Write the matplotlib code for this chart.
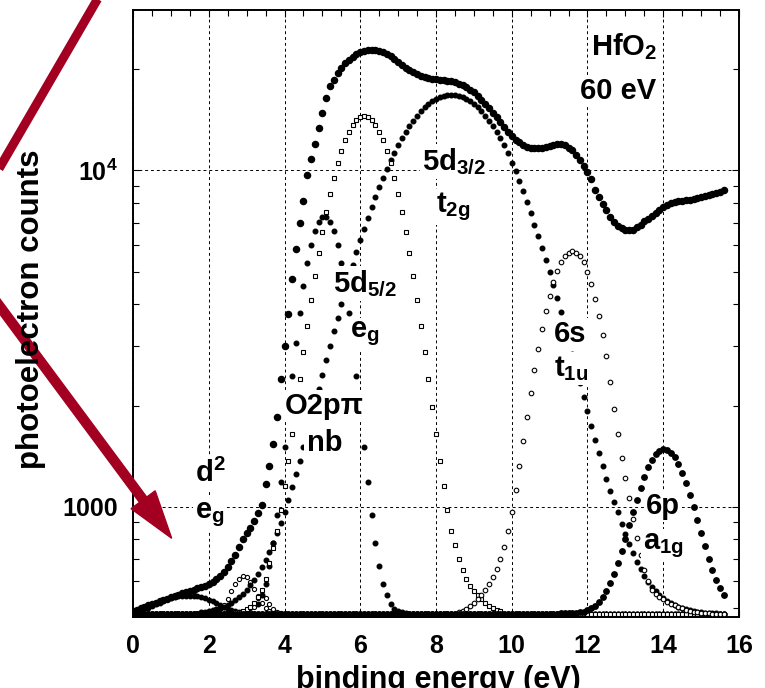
import numpy as np
import matplotlib
matplotlib.use("Agg")
import matplotlib.pyplot as plt
from matplotlib.lines import Line2D
from matplotlib.patches import FancyArrow
from matplotlib.transforms import IdentityTransform
from matplotlib.ticker import NullFormatter

plt.rcParams['font.family'] = ['Liberation Sans', 'DejaVu Sans']
plt.rcParams['font.weight'] = 'bold'
plt.rcParams['mathtext.fontset'] = 'custom'
plt.rcParams['mathtext.bf'] = 'Liberation Sans:bold'
plt.rcParams['mathtext.rm'] = 'Liberation Sans:bold'
plt.rcParams['mathtext.default'] = 'bf'

# binding energy grid, 0.1 eV steps from 0 to 15.6 eV
energy = np.round(np.arange(157) * 0.1, 1)
floor_counts = 481

# total spectrum (0.0 ... 15.6 eV)
total = [490, 494, 499, 504, 509, 513, 518, 523, 528, 533,
         538, 543, 548, 553, 558, 563, 567, 572, 577, 583,
         590, 598, 608, 622, 640, 662, 690, 720, 760, 800,
         835, 865, 905, 960, 1010, 1170, 1325, 1540, 1850, 2390,
         3000, 3730, 4760, 5830, 7000, 8100, 9700, 10840, 12020, 13340,
         14790, 16410, 17780, 18620, 19500, 20180, 20800, 21280, 21780, 22130,
         22440, 22650, 22750, 22800, 22750, 22650, 22490, 22230, 21880, 21480,
         20990, 20610, 20230, 19860, 19630, 19360, 19100, 18920, 18840, 18750,
         18710, 18620, 18580, 18500, 18410, 18280, 18110, 17950, 17700, 17380,
         17060, 16670, 16220, 15780, 15350, 14860, 14390, 13900, 13430, 13000,
         12650, 12360, 12110, 11910, 11780, 11700, 11640, 11640, 11670, 11750,
         11860, 11940, 11990, 11970, 11890, 11700, 11480, 11140, 10720, 10280,
         9890, 9400, 8770, 8320, 7940, 7620, 7280, 7030, 6850, 6750,
         6670, 6640, 6670, 6780, 6900, 7050, 7180, 7310, 7460, 7620,
         7760, 7890, 7980, 8050, 8090, 8130, 8170, 8180, 8220, 8280,
         8340, 8390, 8450, 8510, 8590, 8650, 8730]

# components: (first energy, values)
d2_start = 0.0
d2_eg = [483, 486, 490, 495, 501, 507, 513, 519, 525, 530,
         534, 538, 541, 543, 544, 544, 543, 541, 538, 534,
         529, 523, 517, 510, 504, 498, 493, 489, 486, 484,
         482, 481]

bump1_start = 2.2
bump1 = [488, 496, 511, 532, 560, 588, 611, 622, 617, 598,
         571, 543, 519, 501, 490, 485]

bump2_start = 3.0
bump2 = [482, 487, 505, 535, 548, 535, 514, 496, 486, 482]

o2p_start = 3.3
o2p_nb = [515, 545, 590, 665, 780, 945, 1185, 1510, 1930, 2450,
          3070, 3780, 4530, 5290, 6000, 6590, 7030, 7270, 7270, 7030,
          6590, 6000, 5290, 4530, 3780, 3070, 2450, 1930, 1510, 1185,
          945, 780, 665, 590, 545, 515, 498, 490, 485, 482]

d52_start = 2.5
d52_eg = [482, 483, 485, 487, 490, 495, 505, 518, 538, 565,
          610, 680, 755, 845, 979, 1151, 1370, 1644, 1983, 2393,
          2882, 3455, 4114, 4857, 5681, 6575, 7524, 8511, 9510, 10494,
          11433, 12297, 13053, 13675, 14138, 14424, 14520, 14424, 14138, 13675,
          13053, 12297, 11433, 10494, 9510, 8511, 7524, 6575, 5681, 4857,
          4114, 3455, 2882, 2393, 1983, 1644, 1370, 1151, 979, 845,
          770, 700, 650, 610, 580, 560, 545, 530, 518, 508,
          500, 494, 490]

d32_start = 1.8
d32_t2g = [486, 487, 489, 492, 496, 500, 505, 511, 518, 527,
           538, 551, 566, 584, 605, 630, 660, 695, 735, 782,
           835, 895, 965, 1048, 1142, 1248, 1369, 1506, 1660, 1833,
           2025, 2237, 2472, 2731, 3013, 3320, 3653, 4013, 4398, 4810,
           5248, 5712, 6199, 6710, 7241, 7791, 8356, 8935, 9524, 10118,
           10714, 11307, 11894, 12468, 13025, 13561, 14070, 14548, 14990, 15391,
           15747, 16056, 16313, 16515, 16662, 16750, 16780, 16750, 16662, 16515,
           16313, 16056, 15747, 15391, 14990, 14548, 14070, 13561, 13025, 12468,
           11894, 11307, 10500, 9950, 9330, 8700, 8050, 7450, 6900, 6400,
           5900, 5420, 4980, 4560, 4170, 3800, 3460, 3140, 2850, 2590,
           2340, 2120, 1920, 1740, 1580, 1440, 1320, 1210, 1115, 1030,
           962, 890, 828, 774, 727, 687, 653, 624, 599, 579,
           561, 547, 534, 524, 516, 509, 503, 499, 495, 492,
           489, 487, 485, 484, 483, 482, 482, 481, 481]

s6_start = 8.6
s6_t1u = [485, 490, 497, 506, 518, 532, 548, 566, 590, 620,
          655, 700, 760, 845, 962, 1123, 1324, 1566, 1852, 2181,
          2550, 2952, 3377, 3814, 4244, 4652, 5018, 5325, 5557, 5701,
          5750, 5701, 5557, 5325, 5000, 4600, 4150, 3700, 3250, 2800,
          2350, 1950, 1650, 1400, 1220, 1060, 920, 810, 720, 650,
          600, 565, 550, 538, 530, 522, 515, 509, 504, 499,
          494, 490, 487, 485, 483, 482, 482, 481, 481, 481,
          480]

p6_start = 11.0
p6_a1g = [481, 481, 481, 482, 482, 482, 482, 483, 485, 488,
          492, 499, 508, 520, 538, 561, 592, 632, 680, 737,
          804, 880, 963, 1050, 1140, 1228, 1310, 1380, 1432, 1468,
          1483, 1476, 1449, 1401, 1338, 1261, 1176, 1087, 997, 912,
          833, 762, 701, 649, 606, 573, 547]

x_ticks = [0, 2, 4, 6, 8, 10, 12, 14, 16]
y_ticks = [1000, 10000]
y_tick_labels = ['1000', '$10^4$']
y_minor = [500, 600, 700, 800, 900, 2000, 3000, 4000, 5000, 6000, 7000,
           8000, 9000, 20000]


def on_floor(start, values):
    y = np.full(energy.size, float(floor_counts))
    i = int(round(start * 10))
    y[i:i + len(values)] = values
    return y


fig = plt.figure(figsize=(7.65, 6.88), dpi=100)
ax = fig.add_axes([133 / 765, 1 - 617 / 688, 606 / 765, 607 / 688])
ax.set_yscale('log')

ax.plot(energy, on_floor(d2_start, d2_eg), 'o', ms=3.2, color='black', zorder=3)
ax.plot(energy, on_floor(bump1_start, bump1), 'o', ms=3.0, mfc='white',
        mec='black', mew=0.8, zorder=3)
ax.plot(energy, on_floor(bump2_start, bump2), 'o', ms=3.0, mfc='white',
        mec='black', mew=0.8, zorder=3)
ax.plot(energy, on_floor(d32_start, d32_t2g), 'o', ms=3.3, color='black', zorder=3)
ax.plot(energy, on_floor(o2p_start, o2p_nb), 'o', ms=3.3, color='black', zorder=3)
ax.plot(energy, on_floor(d52_start, d52_eg), 's', ms=3.0, mfc='white',
        mec='black', mew=0.8, zorder=3)
ax.plot(energy, on_floor(s6_start, s6_t1u), 'o', ms=3.3, mfc='white',
        mec='black', mew=0.8, zorder=3)
ax.plot(energy, on_floor(p6_start, p6_a1g), 'o', ms=3.9, color='black', zorder=3)
ax.plot(energy, total, 'o', ms=4.4, color='black', zorder=4)

ax.set_xlim(0, 16)
ax.set_ylim(470, 30000)
ax.set_xticks(x_ticks)
ax.set_xticks(np.arange(0, 16.01, 0.5), minor=True)
ax.set_yticks(y_ticks, labels=y_tick_labels)
ax.set_yticks(y_minor, minor=True)
ax.yaxis.set_minor_formatter(NullFormatter())
ax.tick_params(which='both', direction='in', top=True, right=True, width=0.8,
               labelsize=18)
ax.tick_params(which='major', length=5)
ax.tick_params(which='minor', length=4)
ax.tick_params(axis='x', pad=12)
ax.tick_params(axis='y', pad=11)
for s in ax.spines.values():
    s.set_linewidth(1.4)
ax.grid(True, which='major', color='black', linestyle=(0, (3, 3)), linewidth=0.7)

fs = 21
box = dict(facecolor='white', edgecolor='none', pad=1.5)
labels = [
    ('HfO$_2$', 12.97, 22040),
    ('60 eV', 12.82, 16320),
    ('5d$_{3/2}$', 8.47, 10050),
    ('t$_{2g}$', 8.45, 7490),
    ('5d$_{5/2}$', 6.11, 4336),
    ('e$_g$', 6.11, 3189),
    ('O2p\u03c0', 5.05, 1884),
    ('nb', 5.05, 1463),
    ('d$^2$', 2.05, 1184),
    ('e$_g$', 2.03, 926),
    ('6s', 11.53, 3082),
    ('t$_{1u}$', 11.58, 2443),
    ('6p', 14.0, 952),
    ('a$_{1g}$', 14.0, 749),
]
for txt, x, y in labels:
    ax.text(x, y, txt, fontsize=fs, ha='center', va='baseline', bbox=box, zorder=6)

fig.text(31 / 765, 1 - 309 / 688, 'photoelectron counts', rotation=90,
         fontsize=22.5, ha='center', va='center')
fig.text(438 / 765, 1 - 665 / 688, 'binding energy (eV)', fontsize=22,
         ha='center', va='top')

red = '#a30021'
fig.add_artist(Line2D([106.7, -9.7], [704.7, 504.3], color=red, linewidth=6.5,
                      solid_capstyle='butt', transform=IdentityTransform()))
fig.add_artist(FancyArrow(-17.9, 405.4, 189.6, -255.7, width=9, head_width=30,
                          head_length=48, length_includes_head=True, color=red,
                          transform=IdentityTransform()))

fig.savefig('out.png', dpi=100)
